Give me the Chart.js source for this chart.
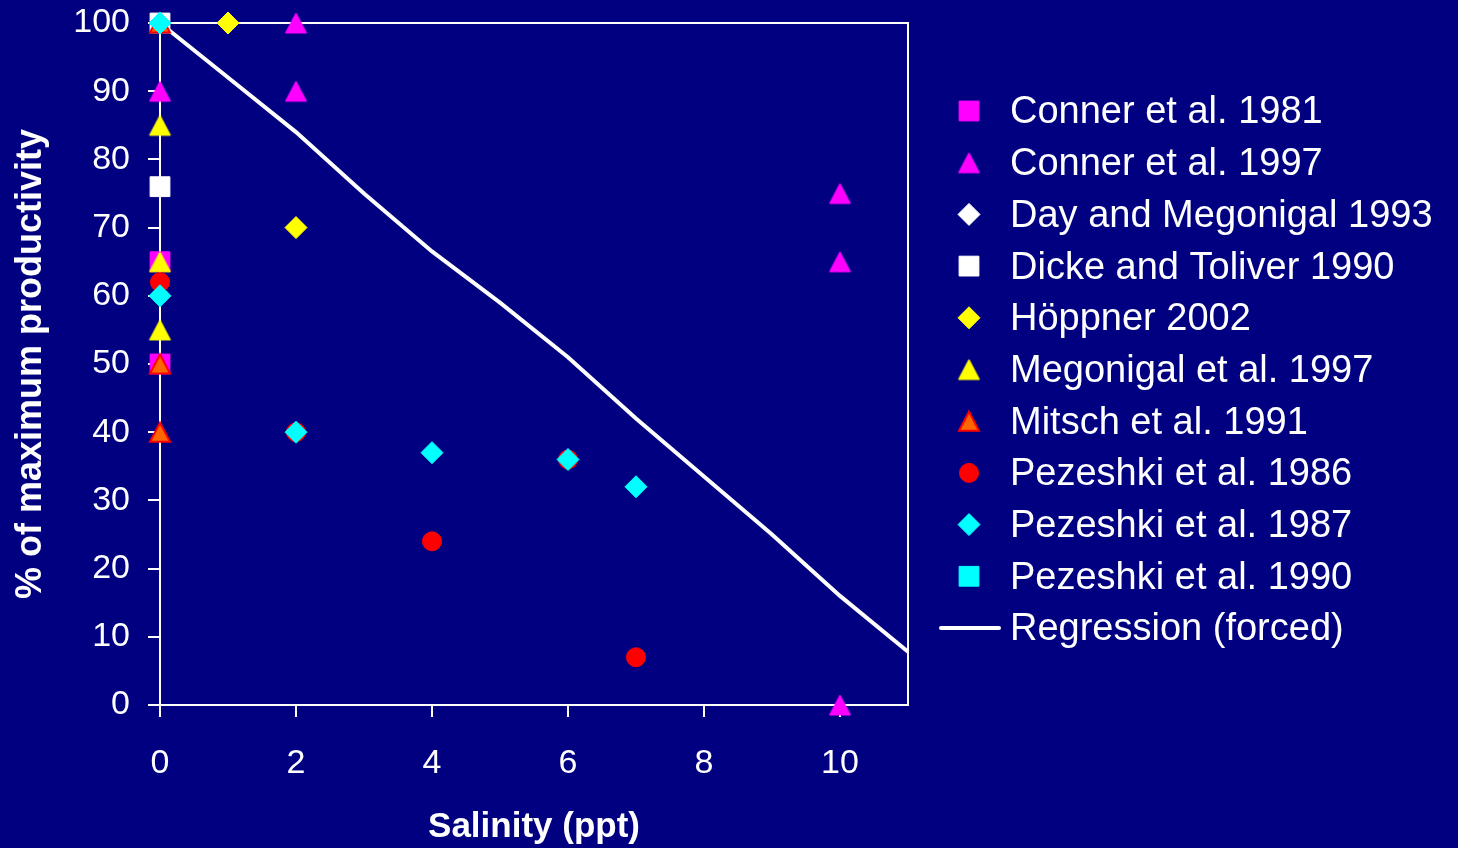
<!DOCTYPE html>
<html>
<head>
<meta charset="utf-8">
<script src="https://cdn.jsdelivr.net/npm/chart.js@4/dist/chart.umd.min.js"></script>
<style>
  html, body { margin: 0; padding: 0; background: #000080; }
  canvas { display: block; }
</style>
</head>
<body>
<canvas id="salChart" width="1458" height="848"></canvas>
<script>
// series (x = salinity ppt, y = % of max productivity)
var conner1981 = [{x: 0, y: 65}, {x: 0, y: 50}]
var conner1997 = [{x: 0, y: 90}, {x: 2, y: 100}, {x: 2, y: 90}, {x: 10, y: 75}, {x: 10, y: 65}, {x: 10, y: 0}]
var dayMegonigal1993 = [{x: 0, y: 100}]
var dickeToliver1990 = [{x: 0, y: 100}, {x: 0, y: 76}]
var hoppner2002 = [{x: 1, y: 100}, {x: 2, y: 70}]
var megonigal1997 = [{x: 0, y: 85}, {x: 0, y: 65}, {x: 0, y: 55}]
var mitsch1991 = [{x: 0, y: 100}, {x: 0, y: 50}, {x: 0, y: 40}]
var pezeshki1986 = [{x: 0, y: 62}, {x: 2, y: 40}, {x: 4, y: 24}, {x: 6, y: 36}, {x: 7, y: 7}]
var pezeshki1987 = [{x: 0, y: 100}, {x: 0, y: 60}, {x: 2, y: 40}, {x: 4, y: 37}, {x: 6, y: 36}, {x: 7, y: 32}]
var pezeshki1990 = []
var regressionX = [0, 1, 2, 3, 4, 5, 6, 7, 8, 9, 10, 11]
var regressionY = [100, 92, 84, 75, 66.5, 59, 51, 42, 33.5, 25, 16, 7.8]

var xTicks = [0, 2, 4, 6, 8, 10]
var yTicks = [0, 10, 20, 30, 40, 50, 60, 70, 80, 90, 100]

var FONT = "'Liberation Sans', Arial, sans-serif"

// triangles in the original sit centred on the point, so draw them on a small canvas
function centredTriangle(size, fill, border, bw) {
	var c = document.createElement('canvas')
	var pad = bw + 1
	c.width = size + pad * 2
	c.height = Math.round(size * 0.95) + pad * 2
	var g = c.getContext('2d')
	g.beginPath()
	g.moveTo(c.width / 2, pad)
	g.lineTo(c.width - pad, c.height - pad)
	g.lineTo(pad, c.height - pad)
	g.closePath()
	g.fillStyle = fill
	g.fill()
	g.lineWidth = bw
	g.strokeStyle = border
	g.stroke()
	return c
}

function markerSet(label, data, style, radius, fill, border, bw) {
	return {
		label: label,
		data: data,
		pointStyle: style,
		pointRadius: radius,
		pointHoverRadius: radius,
		backgroundColor: fill,
		borderColor: border || fill,
		pointBorderWidth: bw || 1,
		showLine: false,
		clip: false
	}
}

var datasets = [
	markerSet('Conner et al. 1981', conner1981, 'rect', 14, '#ff00ff'),
	markerSet('Conner et al. 1997', conner1997, centredTriangle(21, '#ff00ff', '#ff00ff', 1), 12, '#ff00ff'),
	markerSet('Day and Megonigal 1993', dayMegonigal1993, 'rectRot', 11, '#ffffff'),
	markerSet('Dicke and Toliver 1990', dickeToliver1990, 'rect', 14, '#ffffff'),
	markerSet('Höppner 2002', hoppner2002, 'rectRot', 11, '#ffff00'),
	markerSet('Megonigal et al. 1997', megonigal1997, centredTriangle(21, '#ffff00', '#ffff00', 1), 12, '#ffff00'),
	markerSet('Mitsch et al. 1991', mitsch1991, centredTriangle(20, '#ff6600', '#ff0000', 2), 12, '#ff6600', '#ff0000', 2),
	markerSet('Pezeshki et al. 1986', pezeshki1986, 'circle', 9.5, '#ff0000'),
	markerSet('Pezeshki et al. 1987', pezeshki1987, 'rectRot', 11, '#00ffff'),
	markerSet('Pezeshki et al. 1990', pezeshki1990, 'rect', 14, '#00ffff')
]
// later series drawn on top, like the original
datasets.forEach((d, i) => { d.order = datasets.length - i })

datasets.push({
	label: 'Regression (forced)',
	data: regressionX.map((x, i) => ({x: x, y: regressionY[i]})),
	showLine: true,
	borderColor: '#ffffff',
	borderWidth: 4,
	pointRadius: 0,
	tension: 0,
	clip: false,
	order: 100
})

// white frame round the plot area
var framePlugin = {
	id: 'frame',
	beforeDatasetsDraw(chart) {
		var a = chart.chartArea, ctx = chart.ctx
		ctx.save()
		ctx.strokeStyle = '#ffffff'
		ctx.lineWidth = 2
		ctx.strokeRect(a.left, a.top, a.right - a.left, a.bottom - a.top)
		ctx.restore()
	}
}

// legend drawn by hand so markers keep their plot size
var legendPlugin = {
	id: 'sideLegend',
	afterDraw(chart) {
		var ctx = chart.ctx
		ctx.save()
		ctx.font = '38px ' + FONT
		ctx.textBaseline = 'middle'
		ctx.textAlign = 'left'
		chart.data.datasets.forEach((ds, i) => {
			var y = 111 + i * 51.7
			if (ds.showLine) {
				ctx.strokeStyle = ds.borderColor
				ctx.lineWidth = 4
				ctx.lineCap = 'round'
				ctx.beginPath()
				ctx.moveTo(941, y)
				ctx.lineTo(999, y)
				ctx.stroke()
			} else if (typeof ds.pointStyle === 'object') {
				var img = ds.pointStyle
				ctx.drawImage(img, 969 - img.width / 2, y - img.height / 2)
			} else {
				ctx.fillStyle = ds.backgroundColor
				ctx.strokeStyle = ds.borderColor
				ctx.lineWidth = ds.pointBorderWidth
				Chart.helpers.drawPoint(ctx, {pointStyle: ds.pointStyle, radius: ds.pointRadius, borderWidth: ds.pointBorderWidth}, 969, y)
			}
			ctx.fillStyle = '#ffffff'
			ctx.fillText(ds.label, 1010, y + 2)
		})
		ctx.restore()
	}
}

var salChart = new Chart(document.getElementById('salChart').getContext('2d'), {
	type: 'scatter',
	data: {datasets: datasets},
	options: {
		responsive: false,
		animation: false,
		layout: {padding: {left: 0, top: 23, right: 550, bottom: 0}},
		plugins: {
			legend: {display: false},
			tooltip: {enabled: false}
		},
		scales: {
			x: {
				type: 'linear',
				min: 0,
				max: 11,
				afterFit(scale) { scale.height = 143; scale.paddingLeft = 0; scale.paddingRight = 0 },
				afterBuildTicks(scale) { scale.ticks = xTicks.map(v => ({value: v})) },
				border: {display: true, color: '#ffffff', width: 2},
				grid: {display: true, drawOnChartArea: false, drawTicks: true, tickLength: 12, color: '#ffffff', lineWidth: 2},
				ticks: {color: '#ffffff', font: {family: FONT, size: 34}, padding: 26, maxRotation: 0},
				title: {display: true, text: 'Salinity (ppt)', color: '#ffffff', font: {family: FONT, size: 35, weight: 'bold'}, padding: {top: 0, bottom: 0}}
			},
			y: {
				type: 'linear',
				min: 0,
				max: 100,
				afterFit(scale) { scale.width = 160; scale.paddingTop = 0; scale.paddingBottom = 0 },
				afterBuildTicks(scale) { scale.ticks = yTicks.map(v => ({value: v})) },
				border: {display: true, color: '#ffffff', width: 2},
				grid: {display: true, drawOnChartArea: false, drawTicks: true, tickLength: 12, color: '#ffffff', lineWidth: 2},
				ticks: {color: '#ffffff', font: {family: FONT, size: 34}, padding: 18},
				title: {display: true, text: '% of maximum productivity', color: '#ffffff', font: {family: FONT, size: 36, weight: 'bold'}, padding: {top: 9, bottom: 0}}
			}
		}
	},
	plugins: [framePlugin, legendPlugin]
})
</script>
</body>
</html>
